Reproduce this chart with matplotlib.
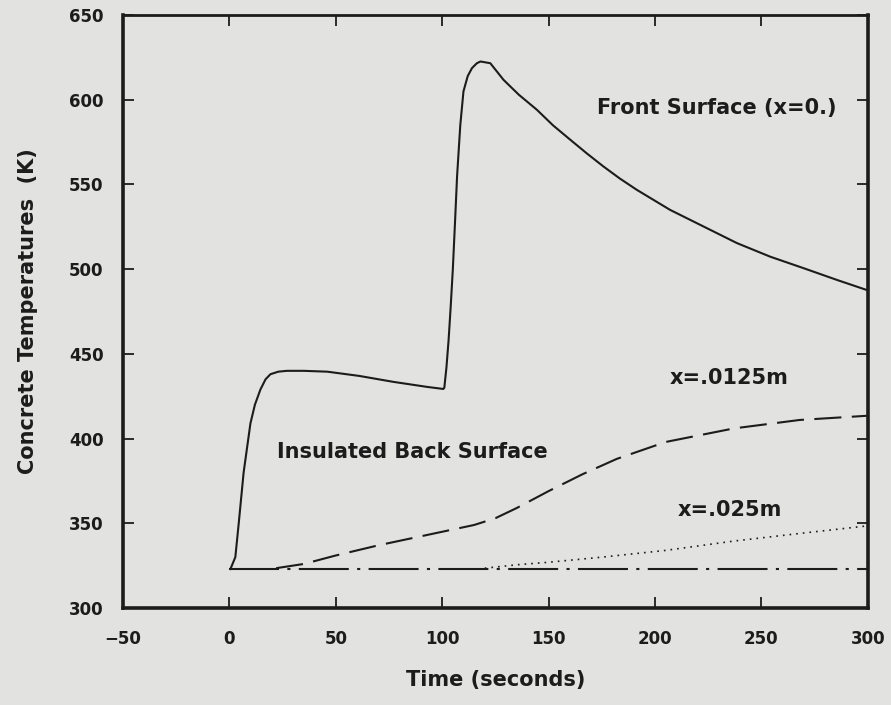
## Concrete temperature response plot

import matplotlib
matplotlib.use("Agg")
import matplotlib.pyplot as plt

#DATA

# front surface (x=0.)
front_t = [0.5, 2.8, 4.4, 6.7, 9.9, 12, 14.6, 17, 19.3, 23, 27, 35, 46, 61, 77, 93,
           100.5, 101.0, 102, 103, 104, 105, 106, 107, 108.5, 110, 112, 114, 116.3, 118,
           122.6, 128.8, 136, 144.5, 152, 160.2, 168, 175.8, 183.5, 191.5, 207.1, 222.8,
           238.5, 254.1, 269.8, 285.4, 300]
front_T = [323, 330, 350, 380, 409, 420, 429, 435, 438, 439.5, 440, 440, 439.5, 437, 433.5, 430.5,
           429.3, 430, 442, 458, 478, 500, 527, 555, 585, 605, 614, 618.7, 621.6, 622.6,
           621.6, 611.8, 603, 594.1, 585, 576.4, 568.3, 560.6, 553.5, 546.8, 535.0, 525.2,
           515.4, 507.4, 500.6, 493.7, 487.5]

# x = .0125m
mid_t = [22, 35, 50, 70, 85, 100, 115, 125, 135, 150, 166, 182, 205, 237, 268, 300]
mid_T = [323.5, 326, 331, 337, 341, 345, 349, 353, 359, 369, 379, 388, 398, 406, 411, 413.5]

# x = .025m
deep_t = [120, 135, 150, 175, 205, 237, 268, 300]
deep_T = [323.5, 325.5, 327, 330, 334, 339.5, 344, 348.5]

# insulated back surface
back_t = [0, 300]
back_T = [323, 323]

xticks = [-50, 0, 50, 100, 150, 200, 250, 300]
yticks = [300, 350, 400, 450, 500, 550, 600, 650]

#CHART

ink = "#1c1c1c"
paper = "#e2e2e0"
plt.rcParams["font.family"] = ["DejaVu Sans"]

fig = plt.figure(figsize=(8.91, 7.05), dpi=100, facecolor=paper)
ax = fig.add_axes([0.138, 0.1376, 0.836, 0.841], facecolor=paper)

ax.plot(front_t, front_T, color=ink, lw=1.5, solid_joinstyle="round")
ax.plot(mid_t, mid_T, color=ink, lw=1.5, dashes=(13, 5))
ax.plot(deep_t, deep_T, color=ink, lw=1.2, dashes=(1, 3))
ax.plot(back_t, back_T, color=ink, lw=1.5, dashes=(24, 4, 1.5, 4))

ax.set_xlim(-50, 300)
ax.set_ylim(300, 650)
ax.set_xticks(xticks)
ax.set_yticks(yticks)
ax.tick_params(direction="in", length=8, width=1.3, colors=ink, labelsize=12,
               top=True, right=True)
ax.tick_params(axis="x", pad=16)
ax.tick_params(axis="y", pad=14)
for lab in ax.get_xticklabels() + ax.get_yticklabels():
    lab.set_fontweight("bold")

for side in ["left", "bottom", "right"]:
    ax.spines[side].set_linewidth(2.6)
    ax.spines[side].set_color(ink)
ax.spines["top"].set_linewidth(2.0)
ax.spines["top"].set_color(ink)

ax.set_xlabel("Time (seconds)", fontsize=15, fontweight="bold", color=ink, labelpad=16)
ax.set_ylabel("Concrete Temperatures  (K)", fontsize=15, fontweight="bold", color=ink, labelpad=22)

ax.text(229, 595, "Front Surface (x=0.)", fontsize=15, fontweight="bold", color=ink,
        ha="center", va="center")
ax.text(86, 392, "Insulated Back Surface", fontsize=15, fontweight="bold", color=ink,
        ha="center", va="center")
ax.text(235, 436, "x=.0125m", fontsize=15, fontweight="bold", color=ink,
        ha="center", va="center")
ax.text(235, 358, "x=.025m", fontsize=15, fontweight="bold", color=ink,
        ha="center", va="center")

fig.savefig("out.png", dpi=100, facecolor=paper)
